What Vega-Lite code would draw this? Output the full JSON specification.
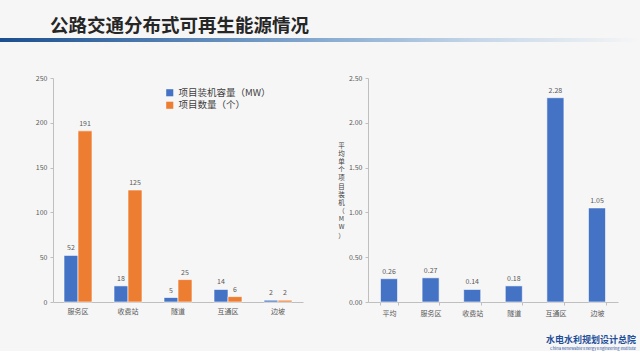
{
  "$schema": "https://vega.github.io/schema/vega-lite/v6.json",
  "background": "#f6f6f6",
  "padding": {"left": 0, "right": 0, "top": 16, "bottom": 0},
  "config": {
    "font": "Noto Sans CJK SC",
    "view": {"stroke": null},
    "axis": {"labelFontSize": 7, "labelColor": "#595959", "domainColor": "#bfbfbf", "tickColor": "#bfbfbf", "grid": false, "titleColor": "#404040"}
  },
  "spacing": 32,
  "align": "none",
  "vconcat": [
    {
      "width": 587,
      "height": 4,
      "title": {"text": "公路交通分布式可再生能源情况", "anchor": "start", "dx": 50, "fontSize": 18.5, "fontWeight": "bold", "color": "#262626", "offset": 3},
      "data": {"values": [{"a": 0, "b": 1}]},
      "mark": {"type": "rect", "clip": false, "color": {"gradient": "linear", "x1": 0, "x2": 1, "y1": 0, "y2": 0, "stops": [{"offset": 0, "color": "#1a4f8f"}, {"offset": 0.5, "color": "#86aad0"}, {"offset": 0.75, "color": "#c6d7e9"}, {"offset": 1, "color": "#f6f6f6"}]}},
      "encoding": {
        "x": {"field": "a", "type": "quantitative", "scale": {"domain": [0, 1], "range": [-53, 587]}, "axis": null},
        "x2": {"field": "b"}
      }
    },
    {
      "spacing": 65,
      "bounds": "flush",
      "hconcat": [
        {
          "width": 250,
          "height": 224,
          "data": {"values": [
            {"cat": "服务区", "series": "项目装机容量（MW）", "value": 52},
            {"cat": "服务区", "series": "项目数量（个）", "value": 191},
            {"cat": "收费站", "series": "项目装机容量（MW）", "value": 18},
            {"cat": "收费站", "series": "项目数量（个）", "value": 125},
            {"cat": "隧道", "series": "项目装机容量（MW）", "value": 5},
            {"cat": "隧道", "series": "项目数量（个）", "value": 25},
            {"cat": "互通区", "series": "项目装机容量（MW）", "value": 14},
            {"cat": "互通区", "series": "项目数量（个）", "value": 6},
            {"cat": "边坡", "series": "项目装机容量（MW）", "value": 2},
            {"cat": "边坡", "series": "项目数量（个）", "value": 2}
          ]},
          "encoding": {
            "x": {"field": "cat", "type": "nominal", "sort": ["服务区", "收费站", "隧道", "互通区", "边坡"], "scale": {"paddingInner": 0.44, "paddingOuter": 0.22}, "axis": {"title": null, "labelAngle": 0, "ticks": false, "labelPadding": 5}},
            "xOffset": {"field": "series", "type": "nominal", "sort": ["项目装机容量（MW）", "项目数量（个）"]},
            "y": {"field": "value", "type": "quantitative", "scale": {"domain": [0, 250]}, "axis": {"title": null, "values": [0, 50, 100, 150, 200, 250], "tickSize": 3, "minExtent": 53, "labelPadding": 3}}
          },
          "layer": [
            {
              "mark": {"type": "bar", "stroke": "#ffffff", "strokeWidth": 0.6},
              "encoding": {
                "color": {"field": "series", "type": "nominal", "sort": ["项目装机容量（MW）", "项目数量（个）"], "scale": {"range": ["#4472C4", "#ED7D31"]},
                  "legend": {"title": null, "orient": "none", "legendX": 112, "legendY": 50, "symbolType": "square", "symbolSize": 50, "symbolStrokeWidth": 0, "labelFontSize": 9.5, "labelColor": "#404040", "rowPadding": 1.5}}
              }
            },
            {
              "mark": {"type": "text", "dy": -7, "fontSize": 7, "color": "#595959"},
              "encoding": {"text": {"field": "value", "type": "quantitative"}}
            }
          ]
        },
        {
          "width": 250,
          "height": 224,
          "title": {"text": "水电水利规划设计总院", "subtitle": "China Renewable Energy Engineering Institute", "orient": "bottom", "anchor": "end", "dx": 18, "offset": 20, "fontSize": 9, "fontWeight": "bold", "color": "#1f4e99", "subtitleFontSize": 4, "subtitleColor": "#1f4e99", "subtitlePadding": 2},
          "data": {"values": [
            {"cat": "平均", "value": 0.26},
            {"cat": "服务区", "value": 0.27},
            {"cat": "收费站", "value": 0.14},
            {"cat": "隧道", "value": 0.18},
            {"cat": "互通区", "value": 2.28},
            {"cat": "边坡", "value": 1.05}
          ]},
          "encoding": {
            "x": {"field": "cat", "type": "nominal", "sort": ["平均", "服务区", "收费站", "隧道", "互通区", "边坡"], "scale": {"paddingInner": 0.59, "paddingOuter": 0.3}, "axis": {"title": null, "labelAngle": 0, "tickBand": "extent", "tickSize": 3, "labelPadding": 4}},
            "y": {"field": "value", "type": "quantitative", "scale": {"domain": [0, 2.5]}, "axis": {"title": ["平", "均", "单", "个", "项", "目", "装", "机", "（", "M", "W", "）"], "titleAngle": 0, "titleFontSize": 6.5, "titleLineHeight": 8.2, "titleAlign": "center", "titleBaseline": "middle", "titleFontWeight": "normal", "titleX": -27, "titleY": 67, "values": [0, 0.5, 1, 1.5, 2, 2.5], "format": ".2f", "tickSize": 3, "labelPadding": 3}}
          },
          "layer": [
            {"mark": {"type": "bar", "color": "#4472C4", "stroke": "#ffffff", "strokeWidth": 0.6}},
            {"mark": {"type": "text", "dy": -7, "fontSize": 7, "color": "#595959"}, "encoding": {"text": {"field": "value", "type": "quantitative", "format": ".2f"}}}
          ]
        }
      ]
    }
  ]
}
